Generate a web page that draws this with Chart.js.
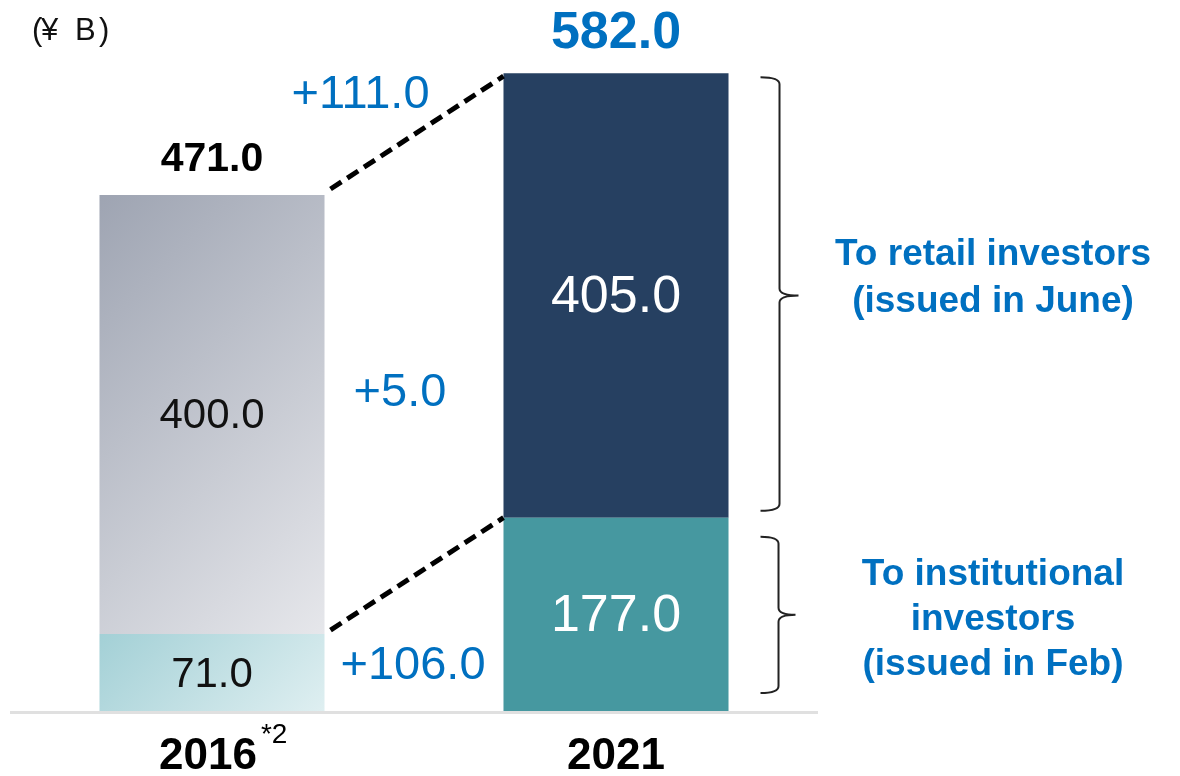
<!DOCTYPE html>
<html>
<head>
<meta charset="utf-8">
<script src="https://cdn.jsdelivr.net/npm/chart.js@4/dist/chart.umd.min.js"></script>
<style>
  html, body { margin: 0; padding: 0; background: #ffffff; }
  #wrap { position: relative; width: 1180px; height: 776px; }
</style>
</head>
<body>
<div id="wrap"><canvas id="c"></canvas></div>
<script>
// Bond issuance by fiscal year (¥ billions)
const years = ['2016', '2021'];
const yearNotes = ['*2', ''];
const institutional = [71.0, 177.0];
const retail = [400.0, 405.0];
const unitParts = ['(', '¥', 'B', ')'];
const retailNote = ['To retail investors', '(issued in June)'];
const institutionalNote = ['To institutional', 'investors', '(issued in Feb)'];

const FONT = '"Liberation Sans", Arial, Helvetica, sans-serif';
const BLUE = '#0070c0';
const NAVY = '#264061';
const TEAL = '#4698a0';
const BAR_FRACTION = 0.557;

const totals = years.map((_, i) => institutional[i] + retail[i]);
const fmt = v => v.toFixed(1);
const signed = v => (v >= 0 ? '+' : '') + v.toFixed(1);

// 45° gradient for the earlier year's segments
function segmentFill(ctx, stops, solid) {
  const chart = ctx.chart;
  const { chartArea, scales } = chart;
  if (ctx.dataIndex !== 0) return solid;
  if (!chartArea || !scales.x || !scales.y) return stops[1];
  const i = ctx.dataIndex;
  const half = (chartArea.right - chartArea.left) / years.length * BAR_FRACTION / 2;
  const cx = scales.x.getPixelForValue(i);
  const lower = ctx.datasetIndex === 0 ? 0 : institutional[i];
  const upper = ctx.datasetIndex === 0 ? institutional[i] : totals[i];
  const yTop = scales.y.getPixelForValue(upper);
  const yBot = scales.y.getPixelForValue(lower);
  const x0 = cx - half;
  const span = (2 * half + (yBot - yTop)) / 2;
  const g = chart.ctx.createLinearGradient(x0, yTop, x0 + span, yTop + span);
  g.addColorStop(0, stops[0]);
  g.addColorStop(1, stops[1]);
  return g;
}

function drawBrace(c, x0, xv, xt, y0, y1, yt) {
  const r = 7;
  c.beginPath();
  c.moveTo(x0, y0);
  c.quadraticCurveTo(xv, y0, xv, y0 + r);
  c.lineTo(xv, yt - r);
  c.quadraticCurveTo(xv, yt, xt, yt);
  c.quadraticCurveTo(xv, yt, xv, yt + r);
  c.lineTo(xv, y1 - r);
  c.quadraticCurveTo(xv, y1, x0, y1);
  c.stroke();
}

const annotations = {
  id: 'annotations',
  afterDatasetsDraw(chart) {
    const c = chart.ctx;
    const xs = chart.scales.x, ys = chart.scales.y;
    const area = chart.chartArea;
    const lowMeta = chart.getDatasetMeta(0).data;
    const topMeta = chart.getDatasetMeta(1).data;
    const half = (area.right - area.left) / years.length * BAR_FRACTION / 2;
    const base = ys.getPixelForValue(0);

    c.save();
    // baseline
    c.strokeStyle = '#e0e0e0';
    c.lineWidth = 3;
    c.beginPath();
    c.moveTo(area.left, base + 0.5);
    c.lineTo(area.right, base + 0.5);
    c.stroke();

    c.textBaseline = 'middle';

    // unit
    c.fillStyle = '#111';
    c.font = `31px ${FONT}`;
    c.textAlign = 'left';
    [32, 41, 75, 99].forEach((x, k) => c.fillText(unitParts[k], x, 31));
    c.textAlign = 'center';

    // segment values
    const inner = [
      { m: topMeta[0], v: retail[0], color: '#111', size: 42 },
      { m: lowMeta[0], v: institutional[0], color: '#111', size: 42 },
      { m: topMeta[1], v: retail[1], color: '#ffffff', size: 52 },
      { m: lowMeta[1], v: institutional[1], color: '#ffffff', size: 52 }
    ];
    inner.forEach(s => {
      c.fillStyle = s.color;
      c.font = `${s.size}px ${FONT}`;
      c.fillText(fmt(s.v), s.m.x, (s.m.y + s.m.base) / 2 + 2);
    });

    // totals
    c.fillStyle = '#000';
    c.font = `bold 41px ${FONT}`;
    c.fillText(fmt(totals[0]), topMeta[0].x, topMeta[0].y - 35);
    c.fillStyle = BLUE;
    c.font = `bold 52px ${FONT}`;
    c.fillText(fmt(totals[1]), topMeta[1].x, topMeta[1].y - 40);

    // connecting dashed lines
    const r0 = topMeta[0].x + half, l1 = topMeta[1].x - half;
    c.strokeStyle = '#000';
    c.lineWidth = 5;
    c.setLineDash([13, 7]);
    c.beginPath();
    c.moveTo(r0 + 6, topMeta[0].y - 6);
    c.lineTo(l1, topMeta[1].y + 3);
    c.moveTo(r0 + 6, lowMeta[0].y - 4);
    c.lineTo(l1, lowMeta[1].y);
    c.stroke();
    c.setLineDash([]);

    // changes between years
    const gapMid = (r0 + l1) / 2;
    c.fillStyle = BLUE;
    c.font = `47px ${FONT}`;
    c.fillText(signed(totals[1] - totals[0]), r0 + 36, topMeta[1].y + 22);
    c.fillText(signed(retail[1] - retail[0]), gapMid - 14, 393);
    c.fillText(signed(institutional[1] - institutional[0]), gapMid - 1, (lowMeta[0].y + lowMeta[0].base) / 2 - 7);

    // year labels
    c.fillStyle = '#000';
    c.font = `bold 44px ${FONT}`;
    years.forEach((y, i) => {
      const x = xs.getPixelForValue(i) + (yearNotes[i] ? -4 : 0);
      c.fillText(y, x, 757);
      if (yearNotes[i]) {
        const w = c.measureText(y).width;
        c.save();
        c.font = `28px ${FONT}`;
        c.textAlign = 'left';
        c.fillText(yearNotes[i], x + w / 2 + 4, 735);
        c.restore();
      }
    });

    // braces
    const rb = topMeta[1].x + half;
    c.strokeStyle = '#222';
    c.lineWidth = 2;
    const retailTip = (topMeta[1].y + lowMeta[1].y) / 2;
    const instTip = (lowMeta[1].y + base) / 2;
    drawBrace(c, rb + 32, rb + 51, rb + 70, topMeta[1].y + 4, lowMeta[1].y - 7, retailTip);
    drawBrace(c, rb + 32, rb + 50, rb + 67, lowMeta[1].y + 19, base - 19, instTip);

    // brace notes
    c.fillStyle = BLUE;
    c.font = `bold 37px ${FONT}`;
    const noteX = 993;
    retailNote.forEach((t, k) => c.fillText(t, noteX, retailTip - 41 + k * 47));
    institutionalNote.forEach((t, k) => c.fillText(t, noteX, instTip - 40 + k * 45));
    c.restore();
  }
};

new Chart(document.getElementById('c'), {
  type: 'bar',
  data: {
    labels: years,
    datasets: [
      {
        label: 'Institutional',
        data: institutional,
        backgroundColor: ctx => segmentFill(ctx, ['#a3d0d6', '#dfeff1'], TEAL),
        borderWidth: 0
      },
      {
        label: 'Retail',
        data: retail,
        backgroundColor: ctx => segmentFill(ctx, ['#9ea4b2', '#e6e7eb'], NAVY),
        borderWidth: 0
      }
    ]
  },
  options: {
    responsive: true,
    maintainAspectRatio: false,
    animation: false,
    layout: { padding: { left: 10, right: 362, top: 9.5, bottom: 64 } },
    datasets: { bar: { barPercentage: 1, categoryPercentage: BAR_FRACTION } },
    scales: {
      x: { display: false, stacked: true },
      y: { display: false, stacked: true, min: 0, max: 640 }
    },
    plugins: { legend: { display: false }, tooltip: { enabled: false } }
  },
  plugins: [annotations]
});
</script>
</body>
</html>
